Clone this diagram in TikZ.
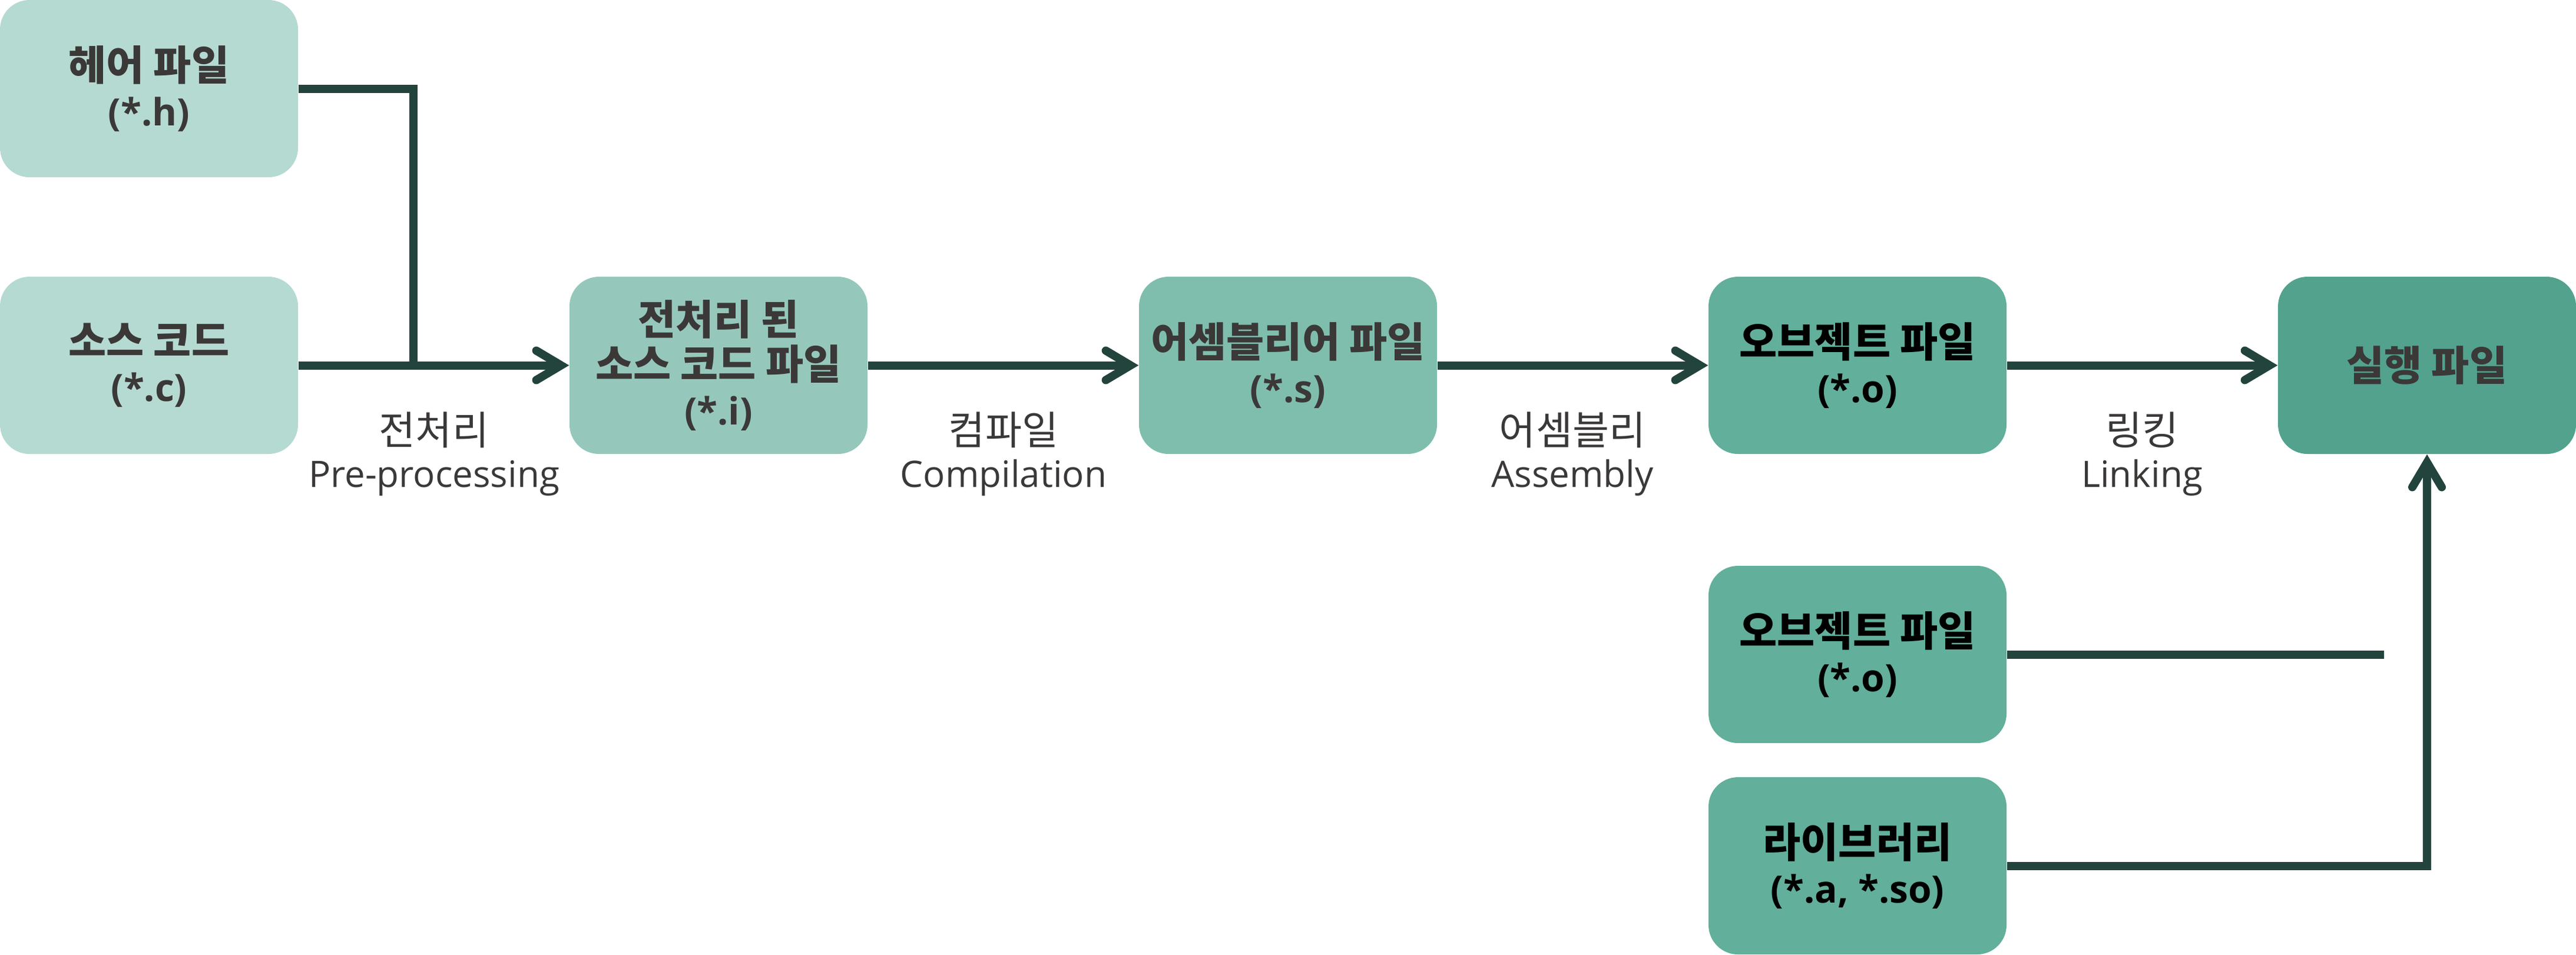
\documentclass[tikz,border=0pt]{standalone}
\usepackage{fontspec}
\setmainfont{Open Sans}
\newfontfamily\kr[Scale=1.09]{Noto Sans CJK KR}
\usetikzlibrary{arrows.meta}
\definecolor{cA}{HTML}{B5DAD2}
\definecolor{cB}{HTML}{95C8BB}
\definecolor{cC}{HTML}{7FBEAD}
\definecolor{cD}{HTML}{62AF9B}
\definecolor{cE}{HTML}{52A28E}
\definecolor{lc}{HTML}{22443C}
\definecolor{tc}{HTML}{3B3838}
\tikzset{
  box/.style={rounded corners=0.5cm, minimum width=5.06cm, minimum height=3.01cm,
    inner sep=0pt, align=center, text=tc,
    font=\fontsize{18.2pt}{21.8pt}\selectfont\bfseries},
  ln/.style={draw=lc, line width=0.14cm},
  arr/.style={ln, -{Straight Barb[length=0.42cm,width=0.5cm,line cap=round,line join=miter]}},
  lbl/.style={anchor=base, text=tc, inner sep=0pt, font=\fontsize{17.6pt}{20pt}\selectfont}
}
\begin{document}
\begin{tikzpicture}
\useasboundingbox (0,0) rectangle (43.74,-16.21);
\node[box, fill=cA] (hdr) at (2.53,-1.505) {{\kr 헤어 파일}\\(*.h)};
\node[box, fill=cA] (src) at (2.53,-6.205) {{\kr 소스 코드}\\(*.c)};
\node[box, fill=cB] (pre) at (12.20,-6.205) {{\kr 전처리 된}\\{\kr 소스 코드 파일}\\(*.i)};
\node[box, fill=cC] (asm) at (21.87,-6.205) {{\kr 어셈블리어 파일}\\(*.s)};
\node[box, fill=cD, text=black] (obj) at (31.54,-6.205) {{\kr 오브젝트 파일}\\(*.o)};
\node[box, fill=cE] (exe) at (41.21,-6.205) {\kr 실행 파일};
\node[box, fill=cD, text=black] (obj2) at (31.54,-11.115) {{\kr 오브젝트 파일}\\(*.o)};
\node[box, fill=cD, text=black] (lib) at (31.54,-14.705) {{\kr 라이브러리}\\(*.a, *.so)};

\coordinate (jn) at (7.02,-6.205);
\coordinate (o2end) at (40.48,-11.115);

\draw[ln] (hdr.east) -| (jn);
\draw[arr] (src.east) -- (pre.west);
\draw[arr] (pre.east) -- (asm.west);
\draw[arr] (asm.east) -- (obj.west);
\draw[arr] (obj.east) -- (exe.west);
\draw[ln] (obj2.east) -- (o2end);
\draw[arr] (lib.east) -| (exe.south);

\node[lbl] (l1a) at (7.37,-7.55) {\kr 전처리};
\node[lbl] (l1b) at (7.37,-8.27) {Pre-processing};
\node[lbl] (l2a) at (17.04,-7.55) {\kr 컴파일};
\node[lbl] (l2b) at (17.04,-8.27) {Compilation};
\node[lbl] (l3a) at (26.70,-7.55) {\kr 어셈블리};
\node[lbl] (l3b) at (26.70,-8.27) {Assembly};
\node[lbl] (l4a) at (36.37,-7.55) {\kr 링킹};
\node[lbl] (l4b) at (36.37,-8.27) {Linking};
\end{tikzpicture}
\end{document}
